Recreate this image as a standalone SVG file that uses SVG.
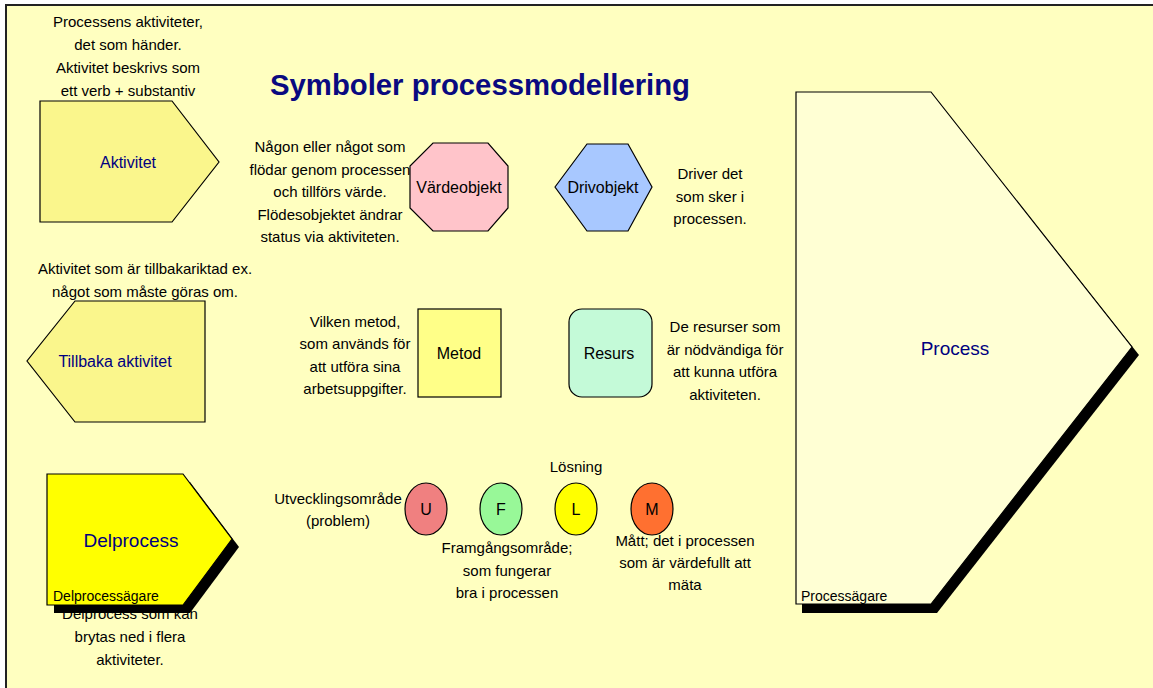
<svg xmlns="http://www.w3.org/2000/svg" width="1153" height="688" viewBox="0 0 1153 688">
<style>
.d{font-family:"Liberation Sans",Arial,sans-serif;font-size:15px;fill:#000;text-anchor:middle}
.l{font-family:"Liberation Sans",Arial,sans-serif;font-size:16px;fill:#000;text-anchor:middle}
.n{font-family:"Liberation Sans",Arial,sans-serif;fill:#000080;text-anchor:middle}
.o{font-family:"Liberation Sans",Arial,sans-serif;font-size:14px;fill:#000}
.s{stroke:#000;stroke-width:1.2}
</style>
<rect x="0" y="0" width="1153" height="688" fill="#fff"/>
<rect x="6" y="5" width="1147" height="683" fill="#FFFFC0"/>
<path d="M6 688 V5 H1153" fill="none" stroke="#222" stroke-width="2"/>
<text x="480" y="95" font-family="Liberation Sans,Arial,sans-serif" font-weight="bold" font-size="30" fill="#0A0A80" text-anchor="middle" textLength="420" lengthAdjust="spacingAndGlyphs">Symboler processmodellering</text>

<g id="aktivitet">
<text class="d"><tspan x="128" y="27">Processens aktiviteter,</tspan><tspan x="128" y="50">det som händer.</tspan><tspan x="128" y="73">Aktivitet beskrivs som</tspan><tspan x="128" y="96">ett verb + substantiv</tspan></text>
<polygon class="s" points="40,101 172,101 219,162 172,222 40,222" fill="#FAF68C"/>
<text class="n" x="128" y="168" font-size="16">Aktivitet</text>
</g>

<g id="tillbaka">
<text class="d"><tspan x="145" y="274">Aktivitet som är tillbakariktad ex.</tspan><tspan x="145" y="297">något som måste göras om.</tspan></text>
<polygon class="s" points="205,301 75,301 27,361 75,422 205,422" fill="#FAF68C"/>
<text class="n" x="115" y="367" font-size="16">Tillbaka aktivitet</text>
</g>

<g id="delprocess">
<text class="d"><tspan x="130" y="619">Delprocess som kan</tspan><tspan x="130" y="642">brytas ned i flera</tspan><tspan x="130" y="665">aktiviteter.</tspan></text>
<polygon points="54,482 190,482 239,547 190,613 54,613" fill="#000"/>
<polygon class="s" points="47,474 183,474 232,539 183,605 47,605" fill="#FFFF00"/>
<text class="n" x="131" y="547" font-size="19">Delprocess</text>
<text class="o" x="53" y="601">Delprocessägare</text>
</g>

<g id="vardeobjekt">
<text class="d"><tspan x="330" y="152">Någon eller något som</tspan><tspan x="330" y="175">flödar genom processen</tspan><tspan x="330" y="197">och tillförs värde.</tspan><tspan x="330" y="220">Flödesobjektet ändrar</tspan><tspan x="330" y="242">status via aktiviteten.</tspan></text>
<polygon class="s" points="433,143 488,143 508,166 508,208 488,231 433,231 410,208 410,166" fill="#FFC4CA"/>
<text class="l" x="459" y="193">Värdeobjekt</text>
</g>

<g id="drivobjekt">
<polygon class="s" points="555,187 587,144 628,144 652,187 628,231 587,231" fill="#A8C8FF"/>
<text class="l" x="603" y="193">Drivobjekt</text>
<text class="d"><tspan x="710" y="179">Driver det</tspan><tspan x="710" y="202">som sker i</tspan><tspan x="710" y="224">processen.</tspan></text>
</g>

<g id="metod">
<text class="d"><tspan x="355" y="327">Vilken metod,</tspan><tspan x="355" y="349">som används för</tspan><tspan x="355" y="372">att utföra sina</tspan><tspan x="355" y="394">arbetsuppgifter.</tspan></text>
<rect class="s" x="418" y="309" width="83" height="88" fill="#FFFF88"/>
<text class="l" x="459" y="359">Metod</text>
</g>

<g id="resurs">
<rect class="s" x="569" y="309" width="83" height="88" rx="13" fill="#C4FAD8"/>
<text class="l" x="609" y="359">Resurs</text>
<text class="d"><tspan x="725" y="332">De resurser som</tspan><tspan x="725" y="355">är nödvändiga för</tspan><tspan x="725" y="377">att kunna utföra</tspan><tspan x="725" y="400">aktiviteten.</tspan></text>
</g>

<g id="u">
<text class="d"><tspan x="338" y="504">Utvecklingsområde</tspan><tspan x="338" y="526">(problem)</tspan></text>
<ellipse class="s" cx="426" cy="509" rx="21" ry="26" fill="#F08080"/>
<text class="l" x="426" y="515" font-size="17">U</text>
</g>
<g id="f">
<ellipse class="s" cx="501" cy="509" rx="21" ry="26" fill="#98F898"/>
<text class="l" x="501" y="515" font-size="17">F</text>
<text class="d"><tspan x="507" y="553">Framgångsområde;</tspan><tspan x="507" y="576">som fungerar</tspan><tspan x="507" y="598">bra i processen</tspan></text>
</g>
<g id="l">
<text class="d" x="576" y="472">Lösning</text>
<ellipse class="s" cx="576" cy="509" rx="21" ry="26" fill="#FFFF00"/>
<text class="l" x="576" y="515" font-size="17">L</text>
</g>
<g id="m">
<ellipse class="s" cx="652" cy="509" rx="21" ry="26" fill="#FF7030"/>
<text class="l" x="652" y="515" font-size="17">M</text>
<text class="d"><tspan x="685" y="546">Mått; det i processen</tspan><tspan x="685" y="568">som är värdefullt att</tspan><tspan x="685" y="590">mäta</tspan></text>
</g>

<g id="process">
<polygon points="802,100 937,100 1139,355 937,613 802,613" fill="#000"/>
<polygon class="s" points="796,92 931,92 1132,347 931,604 796,604" fill="#FFFFD4"/>
<text class="n" x="955" y="355" font-size="19">Process</text>
<text class="o" x="801" y="601">Processägare</text>
</g>
<g id="connectors"/>
</svg>
